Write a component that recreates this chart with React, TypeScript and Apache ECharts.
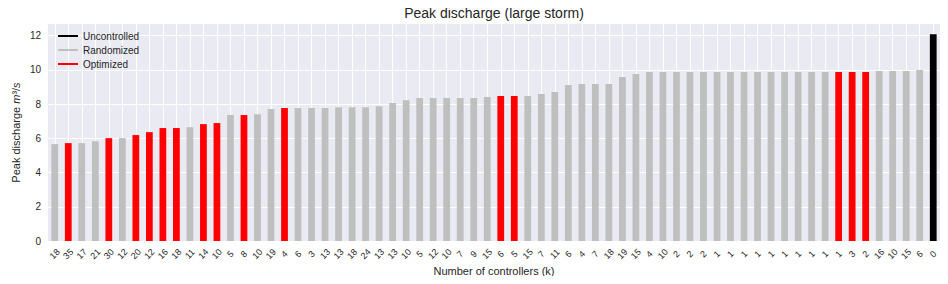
import React, { useEffect, useRef } from "react";
import * as echarts from "echarts";

const labels = ['18','35','17','21','30','12','20','12','16','18','11','14','10','5','8','10','19','4','6','3','13','13','18','24','13','13','10','5','12','10','7','9','15','6','5','15','7','11','6','4','7','18','19','15','4','10','2','2','2','1','1','1','1','1','1','1','1','1','1','3','2','16','10','15','6','0'];

const values = [5.66,5.72,5.72,5.83,6.01,6.01,6.19,6.36,6.60,6.60,6.65,6.83,6.89,7.36,7.36,7.41,7.71,7.77,7.77,7.77,7.77,7.82,7.82,7.82,7.88,8.06,8.23,8.35,8.35,8.35,8.35,8.35,8.41,8.47,8.47,8.47,8.59,8.70,9.11,9.17,9.17,9.17,9.58,9.76,9.87,9.87,9.87,9.87,9.87,9.87,9.87,9.87,9.87,9.87,9.87,9.87,9.87,9.87,9.87,9.87,9.87,9.93,9.93,9.93,9.99,12.08];

// R = Randomized, O = Optimized, U = Uncontrolled
const kinds = ['R','O','R','R','O','R','O','O','O','O','R','O','O','R','O','R','R','O','R','R','R','R','R','R','R','R','R','R','R','R','R','R','R','O','O','R','R','R','R','R','R','R','R','R','R','R','R','R','R','R','R','R','R','R','R','R','R','R','O','O','O','R','R','R','R','U'];

const seriesDefs = [
  { name: 'Uncontrolled', kind: 'U', color: '#000000' },
  { name: 'Randomized', kind: 'R', color: '#bfbfbf' },
  { name: 'Optimized', kind: 'O', color: '#ff0000' },
];

const yTicks = [0, 2, 4, 6, 8, 10, 12];

export default function App() {
  const ref = useRef<HTMLDivElement>(null);
  useEffect(() => {
    if (!ref.current) return;
    const chart = echarts.init(ref.current, undefined, { renderer: 'svg' });
    const textColor = '#262626';
    chart.setOption({
      animation: false,
      backgroundColor: '#ffffff',
      textStyle: { fontFamily: 'Liberation Sans, Arial, sans-serif' },
      graphic: [
        {
          type: 'text',
          x: 494,
          y: 13,
          style: {
            text: 'Peak discharge (large storm)',
            fontSize: 14,
            fontFamily: 'Liberation Sans, Arial, sans-serif',
            fill: textColor,
            align: 'center',
            verticalAlign: 'middle',
          },
        },
      ],
      legend: {
        orient: 'vertical',
        left: 53,
        top: 25,
        itemWidth: 20,
        itemHeight: 2,
        itemGap: 2,
        icon: 'rect',
        data: seriesDefs.map((s) => s.name),
        textStyle: { fontSize: 10, color: textColor, lineHeight: 12 },
      },
      grid: {
        left: 48, right: 8, top: 24, bottom: 43,
        backgroundColor: '#eaeaf2', show: true, borderWidth: 0,
        containLabel: false, outerBoundsMode: 'none',
      },
      xAxis: {
        type: 'category',
        data: labels,
        name: 'Number of controllers (k)',
        nameLocation: 'middle',
        nameGap: 24,
        nameMoveOverlap: false,
        nameTextStyle: { fontSize: 11, color: textColor },
        axisLine: { show: false },
        axisTick: { show: false, alignWithLabel: true },
        axisLabel: {
          interval: 0,
          rotate: 45,
          fontSize: 9,
          color: textColor,
          margin: 13,
          align: 'center',
          verticalAlign: 'middle',
        },
        splitLine: { show: true, interval: 0, alignWithLabel: true, lineStyle: { color: '#ffffff', width: 1 } },
      },
      yAxis: {
        type: 'value',
        min: 0,
        max: 12.68,
        interval: 2,
        name: '{a|Peak discharge }{i|m}{a|³/}{i|s}',
        nameLocation: 'middle',
        nameGap: 27,
        nameMoveOverlap: false,
        nameTextStyle: {
          color: textColor,
          fontSize: 11,
          rich: {
            a: { fontSize: 11, color: textColor },
            i: { fontSize: 11, color: textColor, fontStyle: 'italic' },
          },
        },
        axisLine: { show: false },
        axisTick: { show: false },
        axisLabel: {
          fontSize: 10,
          color: textColor,
          margin: 7,
          showMaxLabel: false,
          formatter: (v: number) => (yTicks.indexOf(v) >= 0 ? String(v) : ''),
        },
        splitLine: { show: true, showMaxLine: false, lineStyle: { color: '#ffffff', width: 1 } },
      },
      series: seriesDefs.map((s) => ({
        name: s.name,
        type: 'bar',
        stack: 'all',
        barWidth: '50%',
        itemStyle: { color: s.color },
        data: values.map((v, i) => (kinds[i] === s.kind ? v : null)),
      })),
    });
    return () => chart.dispose();
  }, []);
  return <div ref={ref} style={{ width: 948, height: 284, margin: -8 }} />;
}
